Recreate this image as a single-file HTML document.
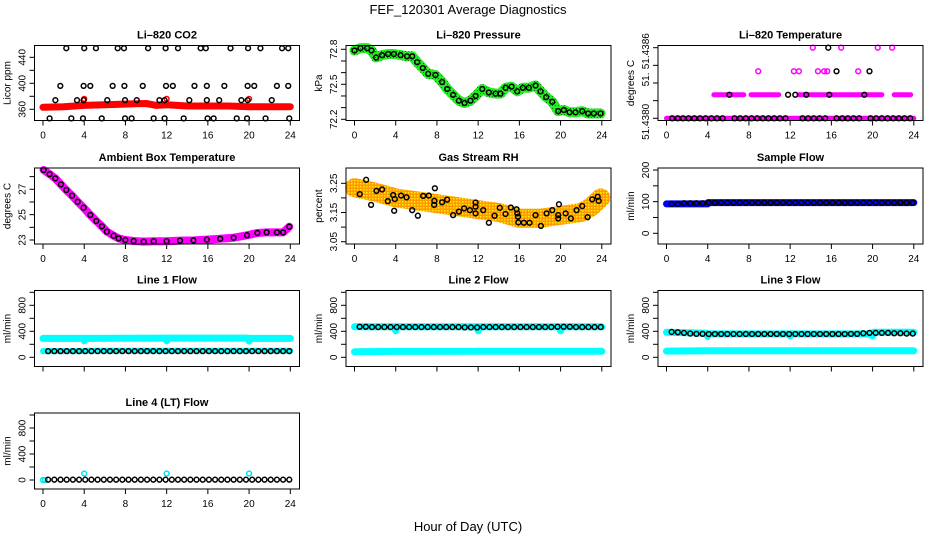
<!DOCTYPE html>
<html><head><meta charset="utf-8"><style>
html,body{margin:0;padding:0;background:#fff;}
svg{display:block;font-family:"Liberation Sans",sans-serif;}
</style></head><body>
<svg id="chart" width="936" height="540" viewBox="0 0 936 540" xmlns="http://www.w3.org/2000/svg">
<defs>
<pattern id="speckle" width="3" height="3" patternUnits="userSpaceOnUse"><rect width="3" height="3" fill="#ff9900"/><rect width="1.5" height="1.5" fill="#ffee00"/></pattern>
<pattern id="greenspk" width="3" height="3" patternUnits="userSpaceOnUse"><rect width="3" height="3" fill="#22ee22"/><rect width="1" height="1" fill="#117711"/></pattern>
</defs>
<text x="468" y="14" font-size="13" text-anchor="middle">FEF_120301  Average Diagnostics</text>
<text x="468" y="531" font-size="13" text-anchor="middle">Hour of Day (UTC)</text>
</svg>
<script>
// ---------- data ----------
const xTicks = [0,4,8,12,16,20,24];
// CO2
const co2BandH = [0,2,4,6,8,10,11,12,14,16,18,20,22,24];
const co2BandV = [363,364,366,367,368,369,366,367,365,365,365,364,364,364];
const co2RedH = [4,12,20];
const co2RedV = [376,376,376];
const co2H = [2.26,4.0,5.14,7.25,7.86,10.2,11.9,13.1,15.3,15.8,18.2,19.9,21.1,23.2,23.8,
 1.68,3.94,4.59,6.76,7.9,9.68,11.94,12.6,14.7,15.9,17.6,19.86,20.5,22.7,23.8,
 1.2,3.3,3.94,6.24,7.96,9.1,11.3,11.8,14.2,15.9,17.1,19.25,19.86,22.2,
 0.64,2.75,3.88,5.7,7.96,8.6,10.74,11.8,13.65,15.97,16.56,18.8,19.8,21.6,23.9];
const co2V = [454,454,454,454,454,454,454,454,454,454,454,454,454,454,454,
 396,396,396,396,396,396,396,396,396,396,396,396,396,396,396,
 374,374,374,374,374,374,374,374,374,374,374,374,374,374,
 346,346,346,346,346,346,346,346,346,346,346,346,346,346,346];
// Pressure
const presH = [0,0.58,1.23,1.65,2.1,2.68,3.26,3.82,4.47,5.1,5.6,6.08,6.63,7.15,7.86,8.5,9.0,9.57,10.13,10.68,11.26,11.75,12.4,13.04,13.69,14.17,14.66,15.24,15.79,16.34,16.92,17.57,18.06,18.6,19.19,19.77,20.32,20.87,21.45,22.1,22.68,23.23,23.88];
const presV = [72.79,72.81,72.81,72.79,72.73,72.75,72.76,72.76,72.75,72.74,72.74,72.69,72.64,72.59,72.58,72.52,72.46,72.41,72.36,72.34,72.36,72.40,72.46,72.43,72.42,72.42,72.47,72.48,72.44,72.47,72.47,72.49,72.44,72.39,72.35,72.27,72.28,72.26,72.26,72.27,72.25,72.25,72.25];
// Li-820 temperature (level bands)
const tempSegStart = [0,4.6,8.2,12.85,22.1];
const tempSegEnd = [24,7.5,10.9,20.9,23.7];
const tempSegV = [51.4380,51.4382,51.4382,51.4382,51.4382];
const tempMagH = [14.2,16.95,20.5,21.9,8.9,12.36,12.85,14.7,15.3,15.6,18.6];
const tempMagV = [51.4386,51.4386,51.4386,51.4386,51.4384,51.4384,51.4384,51.4384,51.4384,51.4384,51.4384];
const tempBlkH = [15.7,16.5,19.7,6.1,11.8,12.5,13.56,15.8,19.2,
 0.55,1.1,1.6,2.15,2.7,3.25,3.8,4.35,4.9,5.45,6.6,7.15,7.7,8.25,8.8,9.35,9.9,10.45,11.0,11.55,13.2,13.75,14.3,14.85,15.4,16.5,17.05,17.6,18.15,18.7,19.8,20.35,20.9,21.45,22.0,22.55,23.1,23.65];
const tempBlkV = [51.4386,51.4384,51.4384,51.4382,51.4382,51.4382,51.4382,51.4382,51.4382,
 51.438,51.438,51.438,51.438,51.438,51.438,51.438,51.438,51.438,51.438,51.438,51.438,51.438,51.438,51.438,51.438,51.438,51.438,51.438,51.438,51.438,51.438,51.438,51.438,51.438,51.438,51.438,51.438,51.438,51.438,51.438,51.438,51.438,51.438,51.438,51.438,51.438,51.438];
// Ambient box temperature
const ambH = [0.06,0.64,1.19,1.74,2.26,2.81,3.36,3.94,4.59,5.17,5.72,6.2,6.85,7.34,7.99,8.8,9.77,10.74,12.0,13.3,14.6,15.9,17.2,18.5,19.8,20.8,21.7,22.7,23.3,23.9];
const ambV = [28.52,28.2,27.86,27.39,26.94,26.5,26.02,25.55,24.97,24.5,24.08,23.66,23.34,23.13,23.0,22.92,22.87,22.9,22.9,22.95,22.97,23.03,23.1,23.18,23.37,23.55,23.6,23.6,23.6,24.05];
// Gas stream RH
const rhBandH = [0,2,4,6,8,10,12,14,16,18,20,22,23,23.9];
const rhBandV = [3.235,3.22,3.20,3.19,3.18,3.17,3.16,3.15,3.13,3.13,3.14,3.15,3.17,3.2];
const rhH = [0.51,1.13,1.61,2.13,2.68,3.23,3.75,3.85,3.91,4.52,5.05,5.6,6.15,6.66,7.21,7.73,7.75,7.8,8.5,8.99,9.57,10.13,10.64,11.2,11.75,11.75,11.75,12.49,13.04,13.59,14.1,14.66,15.17,15.73,15.8,15.86,15.9,16.44,16.99,17.57,18.09,18.64,19.19,19.84,19.77,19.77,20.49,21.0,21.55,22.1,22.62,23.07,23.6,23.7];
const rhV = [3.213,3.262,3.176,3.224,3.229,3.189,3.21,3.156,3.196,3.208,3.202,3.158,3.139,3.207,3.208,3.176,3.19,3.233,3.185,3.194,3.141,3.153,3.164,3.158,3.184,3.17,3.147,3.158,3.115,3.139,3.166,3.145,3.167,3.161,3.147,3.136,3.116,3.115,3.115,3.141,3.104,3.147,3.158,3.178,3.141,3.13,3.147,3.13,3.158,3.172,3.134,3.195,3.204,3.19];
// Flows
const flowH = [0.5,1.1,1.7,2.3,2.9,3.5,4.1,4.7,5.3,5.9,6.5,7.1,7.7,8.3,8.9,9.5,10.1,10.7,11.3,11.9,12.5,13.1,13.7,14.3,14.9,15.5,16.1,16.7,17.3,17.9,18.5,19.1,19.7,20.3,20.9,21.5,22.1,22.7,23.3,23.9];
const sampleBandH = [0,4,4.05,24];
const sampleBandV = [93,93,97,97];
const sampleV = [93,93,95,95,95,95,97,97,97,97,97,97,97,97,97,97,97,97,97,97,97,97,97,97,97,97,97,97,97,97,97,97,97,97,97,97,97,97,97,97];
const bandH = [0,3.9,4,4.1,11.9,12,12.1,19.9,20,20.1,24];
const line1UpV = [290,290,255,290,295,255,295,295,250,290,290];
const line1LoV = [95,95,95,100,100,100,100,100,100,100,100];
const line1V = [95,95,95,95,95,95,95,95,95,95,95,95,95,95,95,95,95,95,95,95,95,95,95,95,95,95,95,95,95,95,95,95,95,95,95,95,95,95,95,95];
const line2UpV = [470,470,410,470,470,410,470,470,410,470,470];
const line2LoV = [85,90,90,90,92,95,92,92,92,92,92];
const line2V = [470,470,465,465,465,465,465,465,465,465,465,465,465,465,465,465,465,460,460,460,465,465,465,465,465,465,465,465,465,465,465,465,470,470,470,465,465,465,465,465];
const line3UpV = [385,370,320,360,360,330,360,360,330,385,385];
const line3LoV = [95,100,100,100,100,100,100,100,100,100,100];
const line3V = [390,385,375,365,360,360,358,358,358,358,358,358,358,358,358,358,358,358,358,358,358,358,358,358,358,358,358,358,358,360,360,370,375,375,375,375,370,370,365,365];
const line4V = [5,5,5,5,5,5,5,5,5,5,5,5,5,5,5,5,5,5,5,5,5,5,5,5,5,5,5,5,5,5,5,5,5,5,5,5,5,5,5,5];
const line4CyanH = [0,0.2,4,12,20];
const line4CyanV = [0,0,100,100,100];

// ---------- layout ----------
const NS = "http://www.w3.org/2000/svg";
const svg = document.getElementById('chart');
const cols = [34.5,346,658], rows = [45.5,168,290.5,413];
function mk(tag, attrs, parent){ const e=document.createElementNS(NS,tag); for(const k in attrs) e.setAttribute(k,attrs[k]); (parent||svg).appendChild(e); return e; }

function panel(o){
  const p = {x:cols[o.c], y:rows[o.r], w:265, h:(o.r===0?75:76)};
  p.sy = v => p.y + o.p1 + (v - o.v1) * (o.p2 - o.p1) / (o.v2 - o.v1);
  p.sx = h => p.x + 8.5 + h * 247.3 / 24;
  const g = mk('g', {});
  
  
  p.g = g;
  const t = mk('text', {x:p.x+p.w/2, y:p.y-7, 'font-size':11, 'font-weight':'bold', 'text-anchor':'middle'}, g);
  t.textContent = o.title;
  
  
  const yl = mk('text', {x:p.x-24, y:p.y+p.h/2, 'font-size':10, 'text-anchor':'middle', transform:`rotate(-90 ${p.x-24} ${p.y+p.h/2})`}, g);
  yl.textContent = o.ylab;
  
  
  o.yt.forEach(v => { const y=p.sy(v); mk('line',{x1:p.x-5,x2:p.x,y1:y,y2:y,stroke:'#000','stroke-width':1},g); });
  o.yl.forEach((lab,i) => { if(!lab) return; const y=p.sy(o.ylv[i]);
    const tt = mk('text',{x:p.x-9,y:y,'font-size':10,'text-anchor':'middle',transform:`rotate(-90 ${p.x-9} ${y})`},g);
    tt.textContent = lab;
    
    
  });
  const by = p.y + p.h;
  mk('line',{x1:p.sx(0),x2:p.sx(24),y1:by,y2:by,stroke:'#000','stroke-width':1},g);
  xTicks.forEach(h => { const x=p.sx(h); mk('line',{x1:x,x2:x,y1:by,y2:by+5,stroke:'#000','stroke-width':1},g);
    if(o.xl){ const tt=mk('text',{x:x,y:by+18,'font-size':10,'text-anchor':'middle'},g); tt.textContent=h;
      
       }
  });
  p.body = mk('g',{},g);
  const box = mk('rect',{x:p.x,y:p.y,width:p.w,height:p.h,fill:'none',stroke:'#000','stroke-width':1},g);
  
  
  return p;
}
function band(p, hs, vs, color, width, name){
  const d = hs.map((h,i)=> (i?'L':'M') + p.sx(h).toFixed(1) + ' ' + p.sy(vs[i]).toFixed(1)).join(' ');
  const e = mk('path',{d:d,fill:'none',stroke:color,'stroke-width':width,'stroke-linejoin':'round','stroke-linecap':'round'},p.body);
  
  
}
function seg(p, h1, h2, v, color, width){
  const e = mk('line',{x1:p.sx(h1),x2:p.sx(h2),y1:p.sy(v),y2:p.sy(v),stroke:color,'stroke-width':width,'stroke-linecap':'round'},p.body);
  
  
}
function pts(p, hs, vs, color, name){
  hs.forEach((h,i)=>{
    const c = mk('circle',{cx:p.sx(h),cy:p.sy(vs[i]),r:2.4,fill:'none',stroke:color,'stroke-width':1.5},p.body);
    
    
  });
}

// Row 1
let p = panel({c:0,r:0,name:'co2-panel',title:'Li\u2013820 CO2',ylab:'Licor ppm',v1:360,p1:63.8,v2:440,p2:11.8,yt:[360,380,400,420,440],yl:['360','400','440'],ylv:[360,400,440],xl:true});
band(p, co2BandH, co2BandV, '#ff0000', 7, 'co2-band');
pts(p, co2RedH, co2RedV, '#ff0000', 'co2-red-point');
pts(p, co2H, co2V, '#000', 'co2-point');

p = panel({c:1,r:0,name:'pressure-panel',title:'Li\u2013820 Pressure',ylab:'kPa',v1:72.8,p1:3.8,v2:72.2,p2:73.8,yt:[72.2,72.3,72.4,72.5,72.6,72.7,72.8],yl:['72.2','72.5','72.8'],ylv:[72.2,72.5,72.8],xl:true});
band(p, presH, presV, 'url(#greenspk)', 10, 'pressure-band');
pts(p, presH, presV, '#000', 'pressure-point');

p = panel({c:2,r:0,name:'li820-temp-panel',title:'Li\u2013820 Temperature',ylab:'degrees C',v1:51.4380,p1:72.8,v2:51.4386,p2:2.2,yt:[51.4380,51.43815,51.4383,51.43845,51.4386],yl:['51.4380','51.','51.4386'],ylv:[51.43797,51.43833,51.43857],xl:true});
tempSegStart.forEach((s,i)=>seg(p, s, tempSegEnd[i], tempSegV[i], '#ff00ff', 5));
pts(p, tempMagH, tempMagV, '#ff00ff', 'temp-magenta-point');
pts(p, tempBlkH, tempBlkV, '#000', 'temp-point');

// Row 2
p = panel({c:0,r:1,name:'ambient-temp-panel',title:'Ambient Box Temperature',ylab:'degrees C',v1:23,p1:72,v2:27,p2:21.3,yt:[23,24,25,26,27,28],yl:['23','25','27'],ylv:[23,25,27],xl:true});
band(p, ambH, ambV, '#ff00ff', 8, 'ambient-band');
pts(p, ambH, ambV, '#000', 'ambient-point');

p = panel({c:1,r:1,name:'rh-panel',title:'Gas Stream RH',ylab:'percent',v1:3.05,p1:73.7,v2:3.25,p2:15.3,yt:[3.05,3.10,3.15,3.20,3.25],yl:['3.05','3.15','3.25'],ylv:[3.05,3.15,3.25],xl:true});
band(p, rhBandH, rhBandV, 'url(#speckle)', 19, 'rh-band');
pts(p, rhH, rhV, '#000', 'rh-point');

p = panel({c:2,r:1,name:'sample-flow-panel',title:'Sample Flow',ylab:'ml/min',v1:0,p1:65.3,v2:200,p2:2,yt:[0,50,100,150,200],yl:['0','100','200'],ylv:[0,100,200],xl:true});
band(p, sampleBandH, sampleBandV, '#0000ff', 7, 'sample-band');
pts(p, flowH, sampleV, '#000', 'sample-point');

// Row 3
const flowY = {v1:0,p1:66.8,v2:400,p2:40.8,yt:[0,200,400,600,800,1000],yl:['0','400','800'],ylv:[0,400,800],ylab:'ml/min'};
p = panel(Object.assign({c:0,r:2,name:'line1-panel',title:'Line 1 Flow',xl:false},flowY));
band(p, bandH, line1UpV, '#00ffff', 7, 'line1-upper-band');
band(p, bandH, line1LoV, '#00ffff', 6, 'line1-lower-band');
pts(p, flowH, line1V, '#000', 'line1-point');

p = panel(Object.assign({c:1,r:2,name:'line2-panel',title:'Line 2 Flow',xl:false},flowY));
band(p, bandH, line2UpV, '#00ffff', 7, 'line2-upper-band');
band(p, bandH, line2LoV, '#00ffff', 7, 'line2-lower-band');
pts(p, flowH, line2V, '#000', 'line2-point');

p = panel(Object.assign({c:2,r:2,name:'line3-panel',title:'Line 3 Flow',xl:false},flowY));
band(p, bandH, line3UpV, '#00ffff', 7, 'line3-upper-band');
band(p, bandH, line3LoV, '#00ffff', 7, 'line3-lower-band');
pts(p, flowH, line3V, '#000', 'line3-point');

// Row 4
p = panel(Object.assign({c:0,r:3,name:'line4-panel',title:'Line 4 (LT) Flow',xl:true},flowY,{p1:67,p2:41}));
pts(p, line4CyanH, line4CyanV, '#00e5ee', 'line4-cyan-point');
pts(p, flowH, line4V, '#000', 'line4-point');
</script>
</body></html>
